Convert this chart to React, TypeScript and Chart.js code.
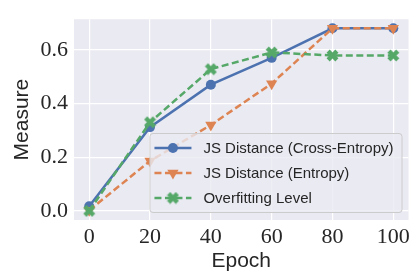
import React, { useEffect, useRef } from 'react';
import { Chart, registerables } from 'chart.js';
Chart.register(...registerables);

const epochs = [0, 20, 40, 60, 80, 100];
const jsCrossEntropy = [0.017, 0.312, 0.47, 0.57, 0.68, 0.68];
const jsEntropy = [0.002, 0.186, 0.32, 0.474, 0.68, 0.68];
const overfitting = [0.0, 0.33, 0.528, 0.59, 0.579, 0.579];
const seriesLabels = ['JS Distance (Cross-Entropy)', 'JS Distance (Entropy)', 'Overfitting Level'];
const seriesColors = ['#4C72B0', '#DD8452', '#55A868'];
const xTicks = [0, 20, 40, 60, 80, 100];
const yTicks = [0, 0.2, 0.4, 0.6];
const xLabel = 'Epoch';
const yLabel = 'Measure';

const TEXT = '#262626';

function makeXMarker(color: string): HTMLCanvasElement {
  const c = document.createElement('canvas');
  const s = 13;
  c.width = s;
  c.height = s;
  const ctx = c.getContext('2d')!;
  ctx.translate(s / 2, s / 2);
  ctx.rotate(Math.PI / 4);
  const r = 6.2;
  const w = 2.2;
  ctx.fillStyle = color;
  ctx.beginPath();
  ctx.moveTo(-w, -r);
  ctx.lineTo(w, -r);
  ctx.lineTo(w, -w);
  ctx.lineTo(r, -w);
  ctx.lineTo(r, w);
  ctx.lineTo(w, w);
  ctx.lineTo(w, r);
  ctx.lineTo(-w, r);
  ctx.lineTo(-w, w);
  ctx.lineTo(-r, w);
  ctx.lineTo(-r, -w);
  ctx.lineTo(-w, -w);
  ctx.closePath();
  ctx.fill();
  return c;
}

export default function App() {
  const ref = useRef<HTMLCanvasElement>(null);
  useEffect(() => {
    const xMarker = makeXMarker(seriesColors[2]);
    const series = [jsCrossEntropy, jsEntropy, overfitting];
    const styles: any[] = [
      { pointStyle: 'circle', pointRadius: 5, rotation: 0, dash: [] },
      { pointStyle: 'triangle', pointRadius: 6.5, rotation: 180, dash: [7, 3.5] },
      { pointStyle: xMarker, pointRadius: 6, rotation: 0, dash: [7, 3.5] },
    ];
    const datasets = series.map((vals, i) => ({
      label: seriesLabels[i],
      data: epochs.map((e, j) => ({ x: e, y: vals[j] })),
      borderColor: seriesColors[i],
      backgroundColor: seriesColors[i],
      borderWidth: 2.5,
      borderDash: styles[i].dash,
      pointStyle: styles[i].pointStyle,
      pointRadius: styles[i].pointRadius,
      pointRotation: styles[i].rotation,
      pointBorderWidth: 0,
      pointBackgroundColor: seriesColors[i],
      pointBorderColor: seriesColors[i],
      tension: 0,
      order: 3 - i,
    }));

    const bgPlugin = {
      id: 'bg',
      beforeDraw(chart: any) {
        const { ctx, chartArea: a } = chart;
        ctx.save();
        ctx.fillStyle = '#EAEAF2';
        ctx.fillRect(a.left, a.top, a.right - a.left, a.bottom - a.top);
        ctx.restore();
      },
    };

    const legendPlugin = {
      id: 'innerLegend',
      afterDraw(chart: any) {
        const { ctx, chartArea: a } = chart;
        ctx.save();
        ctx.font = '15px "Liberation Sans", Arial, sans-serif';
        let maxW = 0;
        seriesLabels.forEach((l) => (maxW = Math.max(maxW, ctx.measureText(l).width)));
        const boxW = 5 + 37 + 12 + maxW + 8;
        const boxH = 79;
        const right = a.right - 7;
        const bottom = a.bottom - 8;
        const left = right - boxW;
        const top = bottom - boxH;
        ctx.beginPath();
        (ctx as any).roundRect(left + 0.5, top + 0.5, boxW, boxH, 3);
        ctx.fillStyle = 'rgba(234,234,242,0.8)';
        ctx.fill();
        ctx.strokeStyle = '#cccccc';
        ctx.lineWidth = 1;
        ctx.stroke();
        for (let i = 0; i < 3; i++) {
          const cy = top + 15 + i * 25;
          const x0 = left + 5;
          const x1 = x0 + 37;
          ctx.save();
          ctx.strokeStyle = seriesColors[i];
          ctx.lineWidth = 2.5;
          ctx.setLineDash(styles[i].dash);
          ctx.beginPath();
          ctx.moveTo(x0, cy);
          ctx.lineTo(x1, cy);
          ctx.stroke();
          ctx.restore();
          const mx = (x0 + x1) / 2;
          if (i === 0) {
            ctx.fillStyle = seriesColors[i];
            ctx.beginPath();
            ctx.arc(mx, cy, 5, 0, Math.PI * 2);
            ctx.fill();
          } else if (i === 1) {
            const r = 6.5;
            ctx.fillStyle = seriesColors[i];
            ctx.beginPath();
            ctx.moveTo(mx, cy + r);
            ctx.lineTo(mx - r * Math.sin(Math.PI / 3), cy - r / 2);
            ctx.lineTo(mx + r * Math.sin(Math.PI / 3), cy - r / 2);
            ctx.closePath();
            ctx.fill();
          } else {
            ctx.drawImage(xMarker, mx - xMarker.width / 2, cy - xMarker.height / 2);
          }
          ctx.fillStyle = TEXT;
          ctx.textBaseline = 'middle';
          ctx.textAlign = 'left';
          ctx.fillText(seriesLabels[i], x1 + 12, cy + 1);
        }
        ctx.restore();
      },
    };

    const chart = new Chart(ref.current!, {
      type: 'line',
      data: { datasets },
      plugins: [bgPlugin, legendPlugin],
      options: {
        animation: false,
        responsive: false,
        maintainAspectRatio: false,
        layout: { padding: { top: 14, right: 6, left: 0, bottom: 0 } },
        plugins: { legend: { display: false }, tooltip: { enabled: false } },
        scales: {
          x: {
            type: 'linear',
            min: -5,
            max: 105,
            afterFit: (s: any) => {
              s.height = 57;
            },
            afterBuildTicks: (s: any) => {
              s.ticks = xTicks.map((v) => ({ value: v }));
            },
            ticks: {
              padding: 4,
              color: TEXT,
              font: { family: '"Liberation Serif", serif', size: 22 },
              callback: (v: any) => String(v),
            },
            grid: { color: '#ffffff', lineWidth: 1.2, drawTicks: false },
            border: { display: false },
            title: {
              display: true,
              text: xLabel,
              color: TEXT,
              font: { family: '"Liberation Sans", Arial, sans-serif', size: 21 },
              padding: { top: 0, bottom: 3 },
            },
          },
          y: {
            type: 'linear',
            min: -0.034,
            max: 0.714,
            afterFit: (s: any) => {
              s.width = 74;
            },
            afterBuildTicks: (s: any) => {
              s.ticks = yTicks.map((v) => ({ value: v }));
            },
            ticks: {
              padding: 6,
              color: TEXT,
              font: { family: '"Liberation Serif", serif', size: 22 },
              callback: (v: any) => Number(v).toFixed(1),
            },
            grid: { color: '#ffffff', lineWidth: 1.2, drawTicks: false },
            border: { display: false },
            title: {
              display: true,
              text: yLabel,
              color: TEXT,
              font: { family: '"Liberation Sans", Arial, sans-serif', size: 21 },
              padding: { top: 10, bottom: 0 },
            },
          },
        },
      },
    });
    return () => chart.destroy();
  }, []);
  return (
    <div style={{ position: 'fixed', left: 0, top: 0, width: 415, height: 277, background: '#fff' }}>
      <canvas ref={ref} width={415} height={277} style={{ display: 'block' }} />
    </div>
  );
}
